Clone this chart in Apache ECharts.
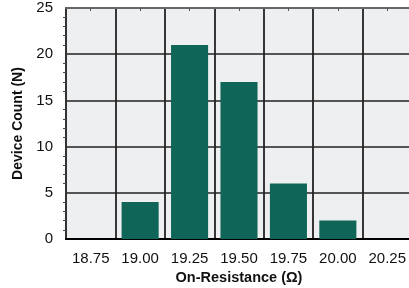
<!DOCTYPE html>
<html>
<head>
<meta charset="utf-8">
<script src="https://cdn.jsdelivr.net/npm/echarts@6/dist/echarts.min.js"></script>
<style>
  html, body { margin: 0; padding: 0; background: #fff; }
  #main { width: 409px; height: 288px; }
</style>
</head>
<body>
<div id="main"></div>
<script>
  // histogram bins and counts
  const bins = ['18.75', '19.00', '19.25', '19.50', '19.75', '20.00', '20.25']
  const counts = [0, 4, 21, 17, 6, 2, 0]
  const yTicks = { min: 0, max: 25, step: 5 }

  const font = 'Liberation Sans, Arial, Helvetica, sans-serif'
  const chart = echarts.init(document.getElementById('main'))

  chart.setOption({
    animation: false,
    grid: {
      left: 66, top: 8, bottom: 49, width: 346,
      outerBoundsMode: 'none', containLabel: false,
      backgroundColor: '#eeeff1', show: true, borderWidth: 0,
    },
    xAxis: [
      {
        type: 'category',
        data: bins,
        position: 'bottom',
        axisLine: { lineStyle: { color: '#000', width: 2 } },
        axisTick: { show: false, interval: 0 },
        axisLabel: { color: '#111', fontSize: 15, fontFamily: font, margin: 12, interval: 0 },
        splitLine: { show: true, interval: 0, lineStyle: { color: '#222', width: 1.8 } },
        name: 'On-Resistance (\u03a9)',
        nameLocation: 'middle',
        nameGap: 31,
        nameTextStyle: { color: '#111', fontSize: 14.5, fontWeight: 'bold', fontFamily: font },
      },
      {
        type: 'category',
        data: bins,
        position: 'top',
        axisLine: { lineStyle: { color: '#666', width: 2 } },
        axisTick: { show: true, inside: true, length: 3, interval: 0, alignWithLabel: true, lineStyle: { color: '#555' } },
        axisLabel: { show: false, interval: 0 },
        splitLine: { show: false },
      },
    ],
    yAxis: {
      type: 'value',
      min: yTicks.min,
      max: yTicks.max,
      interval: yTicks.step,
      axisLine: { show: true, lineStyle: { color: '#333', width: 2 } },
      axisTick: { show: false },
      minorTick: { show: true, splitNumber: 5, length: 3, lineStyle: { color: '#444' } },
      axisLabel: { color: '#111', fontSize: 15, fontFamily: font, margin: 13 },
      splitLine: { show: true, lineStyle: { color: '#555', width: 1.8 } },
      name: 'Device Count (N)',
      nameLocation: 'middle',
      nameGap: 37,
      nameTextStyle: { color: '#111', fontSize: 14, fontWeight: 'bold', fontFamily: font },
    },
    series: [
      {
        type: 'bar',
        data: counts,
        barWidth: '75%',
        itemStyle: { color: '#0f6658' },
      },
    ],
  })
</script>
</body>
</html>
